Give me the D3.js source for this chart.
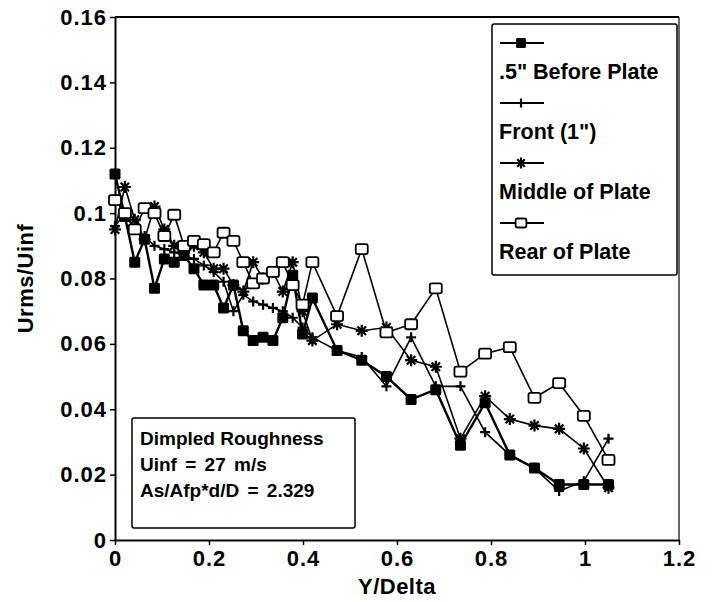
<!DOCTYPE html>
<html><head><meta charset="utf-8">
<script src="https://cdn.jsdelivr.net/npm/d3@7/dist/d3.min.js"></script>
<style>body{margin:0;background:#fff}svg{display:block}</style>
</head><body>
<svg id="c" width="714" height="602"></svg>
<script>
// ---- data ----
const seriesNames = ['.5" Before Plate', 'Front (1")', 'Middle of Plate', 'Rear of Plate'];
const seriesMarkers = ['filled', 'plus', 'star', 'open'];

const xBefore = [0,0.021,0.042,0.063,0.084,0.105,0.126,0.147,0.168,0.189,0.21,0.231,0.252,0.273,0.294,0.315,0.336,0.357,0.378,0.399,0.42,0.4725,0.525,0.5775,0.63,0.6825,0.735,0.7875,0.84,0.8925,0.945,0.9975,1.05];
const yBefore = [0.112,0.099,0.085,0.092,0.077,0.086,0.085,0.087,0.083,0.078,0.078,0.071,0.078,0.064,0.061,0.062,0.061,0.068,0.081,0.063,0.074,0.058,0.055,0.050,0.043,0.046,0.029,0.042,0.026,0.022,0.017,0.017,0.017];

const xFront = [0,0.021,0.042,0.063,0.084,0.105,0.126,0.147,0.168,0.189,0.21,0.231,0.252,0.273,0.294,0.315,0.336,0.357,0.378,0.399,0.42,0.4725,0.525,0.5775,0.63,0.6825,0.735,0.7875,0.84,0.8925,0.945,0.9975,1.05];
const yFront = [0.096,0.100,0.095,0.093,0.090,0.089,0.088,0.087,0.086,0.084,0.082,0.079,0.070,0.075,0.073,0.072,0.071,0.070,0.068,0.065,0.062,0.058,0.056,0.047,0.062,0.047,0.047,0.033,0.026,0.022,0.015,0.018,0.031];

const xMiddle = [0,0.021,0.042,0.063,0.084,0.105,0.126,0.147,0.168,0.189,0.21,0.231,0.252,0.273,0.294,0.315,0.336,0.357,0.378,0.399,0.42,0.4725,0.525,0.5775,0.63,0.6825,0.735,0.7875,0.84,0.8925,0.945,0.9975,1.05];
const yMiddle = [0.095,0.108,0.098,0.092,0.102,0.095,0.090,0.088,0.090,0.088,0.083,0.083,0.078,0.076,0.085,0.080,0.082,0.076,0.085,0.070,0.061,0.066,0.064,0.065,0.055,0.053,0.031,0.044,0.037,0.035,0.034,0.028,0.016];

const xRear = [0,0.021,0.042,0.063,0.084,0.105,0.126,0.147,0.168,0.189,0.21,0.231,0.252,0.273,0.294,0.315,0.336,0.357,0.378,0.399,0.42,0.4725,0.525,0.5775,0.63,0.6825,0.735,0.7875,0.84,0.8925,0.945,0.9975,1.05];
const yRear = [0.104,0.100,0.095,0.1015,0.100,0.093,0.0995,0.090,0.0915,0.0905,0.088,0.094,0.0915,0.085,0.0785,0.080,0.082,0.085,0.078,0.072,0.085,0.0685,0.089,0.0635,0.066,0.077,0.0515,0.057,0.059,0.0435,0.048,0.038,0.0245];

const xTicks = [0,0.2,0.4,0.6,0.8,1,1.2];
const xTickLabels = ['0','0.2','0.4','0.6','0.8','1','1.2'];
const yTicks = [0,0.02,0.04,0.06,0.08,0.1,0.12,0.14,0.16];
const yTickLabels = ['0','0.02','0.04','0.06','0.08','0.1','0.12','0.14','0.16'];
const annotationLines = ['Dimpled Roughness', 'Uinf = 27 m/s', 'As/Afp*d/D = 2.329'];
const xTitle = 'Y/Delta';
const yTitle = 'Urms/Uinf';

// ---- drawing ----
const FONT = '"Liberation Sans", Arial, Helvetica, sans-serif';
const svg = d3.select('#c');
const x = d3.scaleLinear().domain([0, 1.2]).range([115, 679]);
const y = d3.scaleLinear().domain([0, 0.16]).range([540, 17]);

const series = [
  {name: seriesNames[0], marker: seriesMarkers[0], xs: xBefore, ys: yBefore},
  {name: seriesNames[1], marker: seriesMarkers[1], xs: xFront, ys: yFront},
  {name: seriesNames[2], marker: seriesMarkers[2], xs: xMiddle, ys: yMiddle},
  {name: seriesNames[3], marker: seriesMarkers[3], xs: xRear, ys: yRear}
];

// frame top/right
svg.append('line').attr('x1', x(0)).attr('x2', x(1.2)).attr('y1', y(0.16)).attr('y2', y(0.16))
  .attr('stroke', '#000').attr('stroke-width', 2);
svg.append('line').attr('x1', x(1.2)).attr('x2', x(1.2)).attr('y1', y(0.16)).attr('y2', y(0))
  .attr('stroke', '#000').attr('stroke-width', 1.2);

// axes
const gx = svg.append('g').attr('transform', `translate(0,${y(0)})`)
  .call(d3.axisBottom(x).tickValues(xTicks).tickFormat((d, i) => xTickLabels[i]).tickSizeInner(5).tickSizeOuter(0).tickPadding(5));
const gy = svg.append('g').attr('transform', `translate(${x(0)},0)`)
  .call(d3.axisLeft(y).tickValues(yTicks).tickFormat((d, i) => yTickLabels[i]).tickSizeInner(5).tickSizeOuter(0).tickPadding(3));
[gx, gy].forEach(g => {
  g.select('.domain').attr('stroke', '#000').attr('stroke-width', 2);
  g.selectAll('.tick line').attr('stroke', '#000').attr('stroke-width', 1.5);
  g.selectAll('.tick text').attr('fill', '#000').attr('font-family', FONT)
    .attr('font-size', 22).attr('font-weight', 'bold').attr('letter-spacing', 1);
});

svg.append('text').attr('x', (x(0) + x(1.2)) / 2).attr('y', 594).attr('text-anchor', 'middle')
  .attr('font-family', FONT).attr('font-size', 22).attr('font-weight', 'bold').attr('letter-spacing', 0.5).text(xTitle);
svg.append('text').attr('transform', `translate(33,${(y(0) + y(0.16)) / 2}) rotate(-90)`).attr('text-anchor', 'middle')
  .attr('font-family', FONT).attr('font-size', 22).attr('font-weight', 'bold').attr('letter-spacing', 0.5).text(yTitle);

// marker drawing
function drawMarker(g, type, cx, cy, scale) {
  const s = scale || 1;
  if (type === 'filled') {
    g.append('rect').attr('x', cx - 5.5 * s).attr('y', cy - 5.5 * s).attr('width', 11 * s).attr('height', 11 * s)
      .attr('rx', 1.5).attr('fill', '#000');
  } else if (type === 'open') {
    g.append('rect').attr('x', cx - 6 * s).attr('y', cy - 5 * s).attr('width', 12 * s).attr('height', 10 * s)
      .attr('rx', 2).attr('fill', '#fff').attr('stroke', '#000').attr('stroke-width', 1.8);
  } else if (type === 'plus') {
    g.append('path').attr('d', `M${cx - 5 * s},${cy}H${cx + 5 * s}M${cx},${cy - 5 * s}V${cy + 5 * s}`)
      .attr('stroke', '#000').attr('stroke-width', 2.2).attr('fill', 'none');
  } else if (type === 'star') {
    const r = 6 * s;
    let d = '';
    for (let k = 0; k < 4; k++) {
      const a = k * Math.PI / 4;
      d += `M${cx - r * Math.cos(a)},${cy - r * Math.sin(a)}L${cx + r * Math.cos(a)},${cy + r * Math.sin(a)}`;
    }
    g.append('path').attr('d', d).attr('stroke', '#000').attr('stroke-width', 2.2).attr('fill', 'none');
  }
}

const line = d3.line().x(d => x(d[0])).y(d => y(d[1]));
series.forEach(s => {
  const pts = s.xs.map((v, i) => [v, s.ys[i]]);
  const g = svg.append('g');
  g.append('path').attr('d', line(pts)).attr('fill', 'none').attr('stroke', '#000')
    .attr('stroke-width', s.marker === 'filled' ? 2.4 : 1.6);
  pts.forEach(p => drawMarker(g, s.marker, x(p[0]), y(p[1])));
});

// legend
const lg = svg.append('g');
const LX = 492, LY = 24, LW = 185, LH = 251;
lg.append('rect').attr('x', LX).attr('y', LY).attr('width', LW).attr('height', LH)
  .attr('fill', '#fff').attr('stroke', '#000').attr('stroke-width', 1.5).attr('rx', 2);
series.forEach((s, i) => {
  const sy = LY + 19 + i * 60;
  lg.append('line').attr('x1', LX + 8).attr('x2', LX + 52).attr('y1', sy).attr('y2', sy)
    .attr('stroke', '#000').attr('stroke-width', 2);
  drawMarker(lg, s.marker, LX + 29, sy, 0.9);
  lg.append('text').attr('x', LX + 7).attr('y', sy + 36).attr('font-family', FONT).attr('font-size', 21.5)
    .attr('font-weight', 'bold').text(s.name);
});

// annotation box
const ag = svg.append('g');
ag.append('rect').attr('x', 132).attr('y', 418).attr('width', 223).attr('height', 110)
  .attr('fill', '#fff').attr('stroke', '#000').attr('stroke-width', 1.5).attr('rx', 2);
annotationLines.forEach((t, i) => {
  ag.append('text').attr('x', 140).attr('y', 445 + i * 26).attr('font-family', FONT).attr('font-size', 19)
    .attr('font-weight', 'bold').attr('word-spacing', i === 0 ? 0 : 3).text(t);
});
</script>
</body></html>
